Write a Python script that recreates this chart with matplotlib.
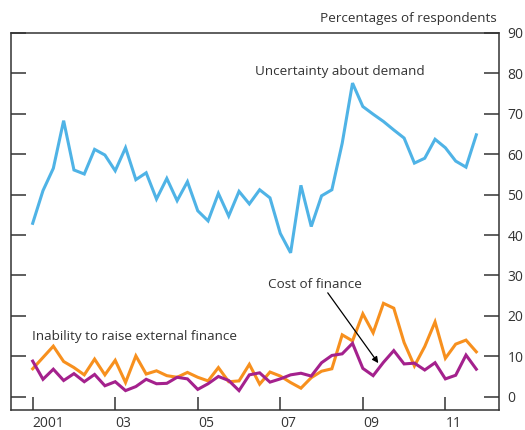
import matplotlib
matplotlib.use('Agg')
import matplotlib.pyplot as plt
import numpy as np

# quarterly, 2001 Q1 .. 2011 Q4
quarters = np.arange(44)
year_ticks = [0, 8, 16, 24, 32, 40]
year_labels = ['2001', '03', '05', '07', '09', '11']

uncertainty = [42.9, 51.0, 56.5, 68.3, 56.1, 55.1, 61.2, 59.8, 55.9, 61.6,
               53.7, 55.4, 48.9, 54.0, 48.5, 53.2, 46.0, 43.5, 50.3, 44.7,
               50.8, 47.7, 51.2, 49.2, 40.4, 35.6, 52.3, 42.1, 49.7, 51.2,
               62.7, 77.6, 71.8, 69.9, 68.1, 66.0, 64.0, 57.8, 59.0, 63.7,
               61.6, 58.3, 56.8, 64.8]
cost_finance = [6.9, 9.7, 12.5, 8.7, 7.2, 5.4, 9.3, 5.4, 9.0, 3.5,
                10.1, 5.6, 6.4, 5.2, 4.8, 6.0, 4.8, 3.9, 7.2, 3.7,
                3.9, 8.0, 3.1, 6.1, 5.1, 3.5, 2.1, 4.7, 6.3, 6.9,
                15.3, 13.8, 20.5, 15.8, 23.1, 21.9, 13.4, 7.6, 12.4, 18.5,
                9.5, 13.0, 14.0, 11.1]
inability = [8.8, 4.3, 6.8, 4.0, 5.7, 3.7, 5.5, 2.7, 3.7, 1.5,
             2.5, 4.3, 3.2, 3.3, 4.8, 4.4, 1.8, 3.2, 5.0, 4.0,
             1.5, 5.4, 5.9, 3.6, 4.4, 5.4, 5.8, 5.1, 8.4, 10.2,
             10.6, 13.2, 7.0, 5.2, 8.5, 11.4, 8.1, 8.3, 6.6, 8.4,
             4.4, 5.3, 10.3, 6.8]

plt.rcParams['font.family'] = ['Open Sans', 'DejaVu Sans']
dark = '#333333'

fig = plt.figure(figsize=(5.25, 4.3), dpi=100)
ax = fig.add_axes([0.0204, 0.0465, 0.9301, 0.8768])

ax.plot(quarters, uncertainty, color='#4fb3e6', lw=2.2, solid_joinstyle='miter')
ax.plot(quarters, cost_finance, color='#f7901e', lw=2.2, solid_joinstyle='miter')
ax.plot(quarters, inability, color='#a4218d', lw=2.2, solid_joinstyle='miter')

ax.set_xlim(-2.13, 45.2)
ax.set_ylim(-3.3, 90)

ax.set_yticks(range(0, 91, 10))
ax.tick_params(axis='y', left=True, right=True, labelleft=False, labelright=True,
               direction='in', length=10.5, width=1.1, color=dark, pad=6,
               labelsize=10, labelcolor=dark)
ax.set_xticks(year_ticks)
ax.set_xticklabels(year_labels, ha='left')
ax.tick_params(axis='x', direction='in', length=9.5, width=1.1, color=dark,
               pad=4, labelsize=10, labelcolor=dark)
for s in ax.spines.values():
    s.set_color(dark)
    s.set_linewidth(1.1)

fig.text(0.947, 0.957, 'Percentages of respondents', ha='right', va='center',
         fontsize=9.7, color=dark)
ax.text(29.8, 80.4, 'Uncertainty about demand', ha='center', va='center',
        fontsize=9.7, color=dark)
ax.text(-0.1, 14.9, 'Inability to raise external finance', ha='left', va='center',
        fontsize=9.7, color=dark)
ax.text(27.4, 27.8, 'Cost of finance', ha='center', va='center',
        fontsize=9.7, color=dark)
ax.annotate('', xy=(33.5, 8.3), xytext=(28.6, 25.7),
            arrowprops=dict(arrowstyle='-|>', color='black', lw=0.9,
                            shrinkA=0, shrinkB=0, mutation_scale=9))

fig.savefig('out.png', dpi=100)
